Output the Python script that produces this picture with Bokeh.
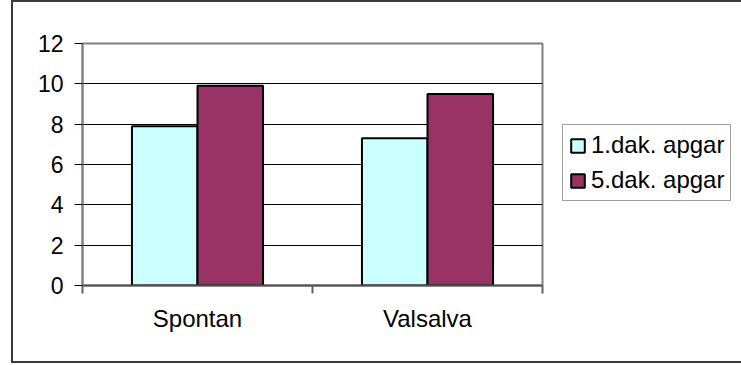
from bokeh.plotting import figure
from bokeh.models import ColumnDataSource, Range1d, FixedTicker, Legend, LegendItem
from bokeh.transform import dodge
from bokeh.embed import file_html
from bokeh.resources import INLINE

categories = ["Spontan", "Valsalva"]
apgar1 = [7.9, 7.3]
apgar5 = [9.9, 9.5]
series_names = ["1.dak. apgar", "5.dak. apgar"]
y_ticks = [0, 2, 4, 6, 8, 10, 12]

FONT = "Liberation Sans"

positions = [i + 0.5 for i in range(len(categories))]
source = ColumnDataSource(dict(x=positions, a1=apgar1, a5=apgar5))

p = figure(
    frame_width=460, frame_height=242,
    min_border_left=69, min_border_right=199,
    min_border_top=41, min_border_bottom=76,
    x_range=Range1d(0, len(categories)), y_range=Range1d(0, 12),
    output_backend="svg", toolbar_location=None, tools="",
)
p.styles = {"margin-left": "13px", "margin-top": "2px", "box-shadow": "0 0 0 2px #3a3a3a"}
p.background_fill_color = "white"
p.border_fill_color = "white"
p.outline_line_color = "#808080"
p.outline_line_width = 2

r1 = p.vbar(x=dodge("x", -0.1425, range=p.x_range), top="a1", width=0.285, bottom=0,
            source=source, fill_color="#CCFFFF", line_color="black", line_width=2)
r2 = p.vbar(x=dodge("x", 0.1425, range=p.x_range), top="a5", width=0.285, bottom=0,
            source=source, fill_color="#993366", line_color="black", line_width=2)

# y axis
p.yaxis.ticker = FixedTicker(ticks=y_ticks)
p.yaxis.axis_line_color = "#808080"
p.yaxis.axis_line_width = 2
p.yaxis.major_tick_line_color = "black"
p.yaxis.major_tick_line_width = 1
p.yaxis.major_tick_out = 8
p.yaxis.major_tick_in = 0
p.yaxis.minor_tick_line_color = None
p.yaxis.major_label_standoff = 11
p.yaxis.major_label_text_font = FONT
p.yaxis.major_label_text_font_size = "23px"
p.yaxis.major_label_text_color = "black"

# x axis
p.xaxis.ticker = FixedTicker(ticks=positions, minor_ticks=[0, 1, 2])
p.xaxis.major_label_overrides = {pos: c for pos, c in zip(positions, categories)}
p.xaxis.axis_line_color = "#505050"
p.xaxis.axis_line_width = 2
p.xaxis.major_tick_line_color = None
p.xaxis.major_tick_out = 0
p.xaxis.major_tick_in = 0
p.xaxis.minor_tick_line_color = "#606060"
p.xaxis.minor_tick_line_width = 2
p.xaxis.minor_tick_out = 8
p.xaxis.minor_tick_in = 0
p.xaxis.major_label_standoff = 11
p.xaxis.major_label_text_font = FONT
p.xaxis.major_label_text_font_size = "24px"
p.xaxis.major_label_text_color = "black"

# grid
p.xgrid.grid_line_color = None
p.ygrid.ticker = FixedTicker(ticks=y_ticks[1:-1])
p.ygrid.grid_line_color = "black"
p.ygrid.grid_line_width = 1

legend = Legend(
    items=[LegendItem(label=series_names[0], renderers=[r1]),
           LegendItem(label=series_names[1], renderers=[r2])],
    location=(20, 84),
    label_text_font=FONT, label_text_font_size="24px", label_text_color="black",
    glyph_width=17, glyph_height=17, label_standoff=5,
    label_height=24, spacing=7, padding=6, margin=0,
    border_line_color="#404040", border_line_width=1.5,
    background_fill_color="white", background_fill_alpha=1,
)
p.add_layout(legend, "right")

open("out.html", "w").write(file_html(p, INLINE))
